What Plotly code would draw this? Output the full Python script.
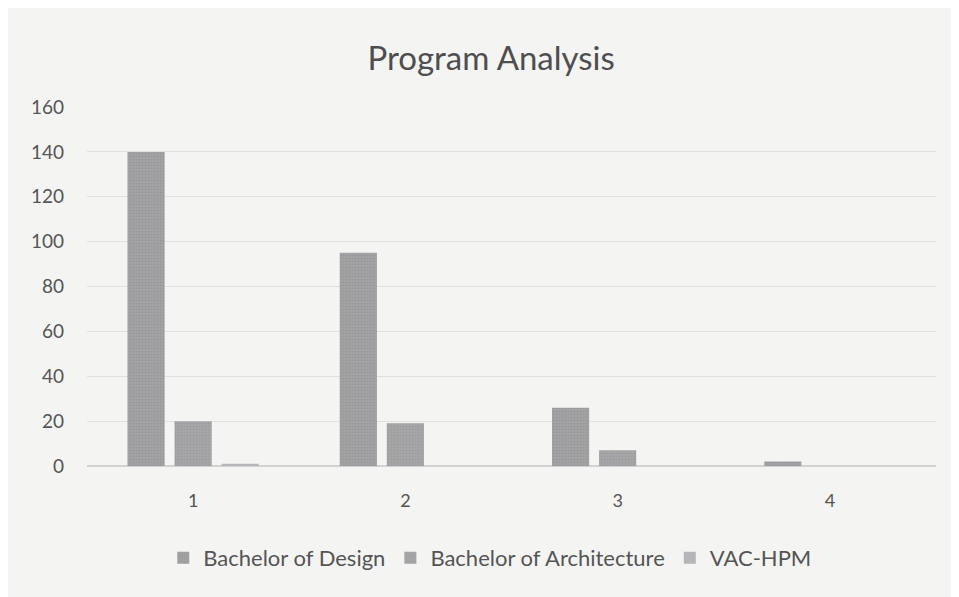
import plotly.graph_objects as go

categories = ["1", "2", "3", "4"]
design = [140, 95, 26, 2]
architecture = [20, 19, 7, 0]
vac_hpm = [1, 0, 0, 0]
y_ticks = [0, 20, 40, 60, 80, 100, 120, 140, 160]

fig = go.Figure()
fig.add_trace(go.Bar(x=categories, y=design, name="Bachelor of Design",
                     marker=dict(color="#9c9c9e", line=dict(width=0),
                                 pattern=dict(shape=".", fgcolor="#8a8a8c", bgcolor="#a4a4a6", size=3, solidity=0.4))))
fig.add_trace(go.Bar(x=categories, y=architecture, name="Bachelor of Architecture",
                     marker=dict(color="#a2a2a4", line=dict(width=0),
                                 pattern=dict(shape=".", fgcolor="#8e8e90", bgcolor="#a8a8aa", size=3, solidity=0.4))))
fig.add_trace(go.Bar(x=categories, y=vac_hpm, name="VAC-HPM",
                     marker=dict(color="#b6b6b8", line=dict(width=0))))

fig.update_layout(
    width=951, height=589,
    paper_bgcolor="#f4f4f3", plot_bgcolor="#f4f4f3",
    font=dict(family="Lato, 'Open Sans', sans-serif", color="#555555", size=16),
    title=dict(text="Program Analysis", x=0.508, xanchor="center", y=0.915, yanchor="middle",
               font=dict(size=33, color="#4e4e50")),
    barmode="group", bargap=0.335, bargroupgap=0.21,
    margin=dict(l=79, r=23, t=99, b=131),
    xaxis=dict(showgrid=False, showline=False, ticks="", tickfont=dict(size=18, color="#555555"),
               ticklabelstandoff=22),
    yaxis=dict(range=[0, 160], tickvals=y_ticks, showgrid=True, gridcolor="#e0e0e0", gridwidth=1,
               zeroline=True, zerolinecolor="#d2d2d2", showline=False, ticks="",
               tickfont=dict(size=19, color="#555555"), ticklabelstandoff=22),
    legend=dict(orientation="h", x=0.475, xanchor="center", y=-0.256, yanchor="middle",
                font=dict(size=22, color="#555555"), itemwidth=30, traceorder="normal",
                bgcolor="rgba(0,0,0,0)"),
    showlegend=True,
)

fig.write_html("out.html")
